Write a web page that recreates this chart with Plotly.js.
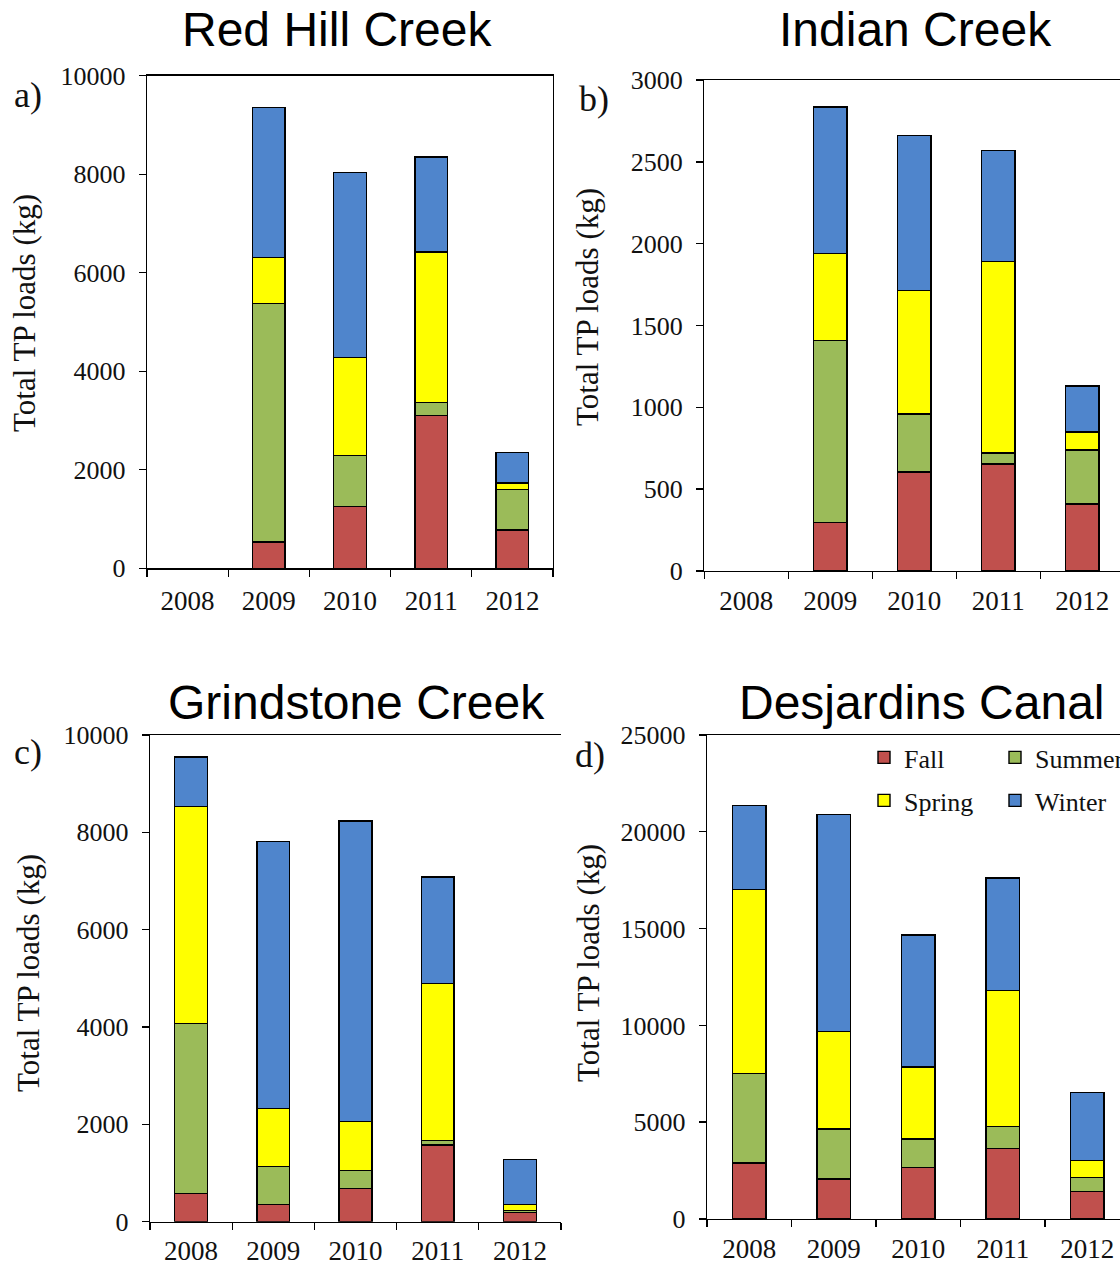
<!DOCTYPE html>
<html>
<head>
<meta charset="utf-8">
<script src="https://cdn.plot.ly/plotly-3.0.1.min.js"></script>
<style>
  html, body { margin: 0; padding: 0; background: #ffffff; }
  #chart { width: 1120px; height: 1263px; }
</style>
</head>
<body>
<div id="chart"></div>
<script>
// Seasonal total phosphorus loads (kg) by water year, four tributaries
const years = ['2008', '2009', '2010', '2011', '2012'];
const seasons = ['Fall', 'Summer', 'Spring', 'Winter'];

// Red Hill Creek (no 2008 record)
const redHillFall   = [null, 530, 1250, 3100, 780];
const redHillSummer = [null, 4850, 1040, 265, 820];
const redHillSpring = [null, 935, 1985, 3060, 135];
const redHillWinter = [null, 3045, 3760, 1925, 615];

// Indian Creek (no 2008 record)
const indianFall   = [null, 295, 605, 655, 410];
const indianSummer = [null, 1115, 355, 65, 330];
const indianSpring = [null, 530, 755, 1170, 110];
const indianWinter = [null, 895, 945, 680, 280];

// Grindstone Creek
const grindstoneFall   = [585, 355, 685, 1580, 185];
const grindstoneSummer = [3490, 785, 370, 85, 45];
const grindstoneSpring = [4450, 1185, 1010, 3235, 125];
const grindstoneWinter = [1025, 5490, 6165, 2180, 925];

// Desjardins Canal
const desjardinsFall   = [2900, 2060, 2650, 3630, 1430];
const desjardinsSummer = [4620, 2580, 1490, 1160, 700];
const desjardinsSpring = [9500, 5030, 3720, 7015, 895];
const desjardinsWinter = [4350, 11220, 6800, 5815, 3510];

const panelTitles = ['Red Hill Creek', 'Indian Creek', 'Grindstone Creek', 'Desjardins Canal'];
const panelLetters = ['a)', 'b)', 'c)', 'd)'];
const yTitle = 'Total TP loads (kg)';

const seasonColors = {
  Fall: '#C0504D',
  Summer: '#9BBB59',
  Spring: '#FFFF00',
  Winter: '#4F85CC'
};

const W = 1120, H = 1263;
const px = x => x / W;
const py = y => 1 - y / H;

const panels = [
  { xa: 'x',  ya: 'y',  series: [redHillFall, redHillSummer, redHillSpring, redHillWinter], legend: false },
  { xa: 'x2', ya: 'y2', series: [indianFall, indianSummer, indianSpring, indianWinter], legend: false },
  { xa: 'x3', ya: 'y3', series: [grindstoneFall, grindstoneSummer, grindstoneSpring, grindstoneWinter], legend: false },
  { xa: 'x4', ya: 'y4', series: [desjardinsFall, desjardinsSummer, desjardinsSpring, desjardinsWinter], legend: true }
];

const traces = [];
panels.forEach(p => {
  seasons.forEach((s, i) => {
    traces.push({
      type: 'bar',
      name: s,
      x: years,
      y: p.series[i],
      xaxis: p.xa,
      yaxis: p.ya,
      marker: { color: seasonColors[s], line: { color: '#000000', width: 1.4 } },
      showlegend: p.legend,
      legend: (s === 'Fall' || s === 'Summer') ? 'legend' : 'legend2',
      hoverinfo: 'x+y+name'
    });
  });
});

const serif = 'Liberation Serif, Times New Roman, serif';
const sans = 'Liberation Sans, Arial, sans-serif';

function xAxis(domain, range, anchor, standoff) {
  return {
    domain: domain, range: range, anchor: anchor,
    type: 'category',
    showline: true, linecolor: '#000000', linewidth: 1.4,
    mirror: true,
    ticks: 'outside', tickson: 'boundaries', ticklen: 7, tickcolor: '#000000', tickwidth: 1.4,
    ticklabelstandoff: standoff,
    tickfont: { family: serif, size: 27, color: '#111111' },
    showgrid: false, zeroline: false, fixedrange: true, automargin: false
  };
}
function yAxis(domain, range, dtick, anchor, mirror) {
  return {
    domain: domain, range: range, dtick: dtick, anchor: anchor,
    showline: true, linecolor: '#000000', linewidth: 1.4,
    mirror: mirror,
    ticks: 'outside', ticklen: 7, tickcolor: '#000000', tickwidth: 1.4,
    tickformat: 'd',
    ticklabelstandoff: 8,
    tickfont: { family: serif, size: 26, color: '#111111' },
    showgrid: false, zeroline: false, fixedrange: true, automargin: false
  };
}

// panel title, letter and y-title positions (px)
const titlePos  = [[337, 30], [915, 30], [356, 702], [922, 702]];
const letterPos = [[28, 95], [594, 99], [28, 752], [590, 755]];
const yTitlePos = [[25, 313], [588, 307], [28, 973], [588, 963]];

const annotations = [];
panelTitles.forEach((t, i) => annotations.push({
  text: t, x: px(titlePos[i][0]), y: py(titlePos[i][1]), xref: 'paper', yref: 'paper',
  xanchor: 'center', yanchor: 'middle', showarrow: false,
  font: { family: sans, size: 48, color: '#000000' }
}));
panelLetters.forEach((t, i) => annotations.push({
  text: t, x: px(letterPos[i][0]), y: py(letterPos[i][1]), xref: 'paper', yref: 'paper',
  xanchor: 'center', yanchor: 'middle', showarrow: false,
  font: { family: serif, size: 36, color: '#111111' }
}));
yTitlePos.forEach(p => annotations.push({
  text: yTitle, x: px(p[0]), y: py(p[1]), xref: 'paper', yref: 'paper',
  xanchor: 'center', yanchor: 'middle', textangle: -90, showarrow: false,
  font: { family: serif, size: 31, color: '#111111' }
}));

const legendStyle = (y) => ({
  orientation: 'h', x: px(864), xanchor: 'left', y: py(y), yanchor: 'top',
  bgcolor: 'rgba(0,0,0,0)', font: { family: serif, size: 26, color: '#111111' },
  entrywidth: 86, traceorder: 'normal', itemclick: false, itemdoubleclick: false,
  tracegroupgap: 0
});

const layout = {
  width: W, height: H,
  margin: { l: 0, r: 0, t: 0, b: 0, autoexpand: false },
  paper_bgcolor: '#ffffff', plot_bgcolor: '#ffffff',
  barmode: 'stack', bargap: 0.6,
  showlegend: true,
  xaxis:  xAxis([px(147), px(553)], [-0.5, 4.5], 'y', 8),
  yaxis:  yAxis([py(568.3), py(75.7)], [0, 10000], 2000, 'x', true),
  xaxis2: xAxis([px(704.3), 1], [-0.5, -0.5 + 415.7 / 84], 'y2', 5),
  yaxis2: yAxis([py(571), py(80)], [0, 3000], 500, 'x2', false),
  xaxis3: xAxis([px(150), px(561)], [-0.5, 4.5], 'y3', 4),
  yaxis3: yAxis([py(1221.7), py(735)], [0, 10000], 2000, 'x3', false),
  xaxis4: xAxis([px(707), 1], [-0.5, -0.5 + 413 / 84.5], 'y4', 5),
  yaxis4: yAxis([py(1219), py(735)], [0, 25000], 5000, 'x4', false),
  legend: legendStyle(734),
  legend2: legendStyle(777),
  annotations: annotations
};

Plotly.newPlot('chart', traces, layout, { displayModeBar: false, staticPlot: true });
</script>
</body>
</html>
